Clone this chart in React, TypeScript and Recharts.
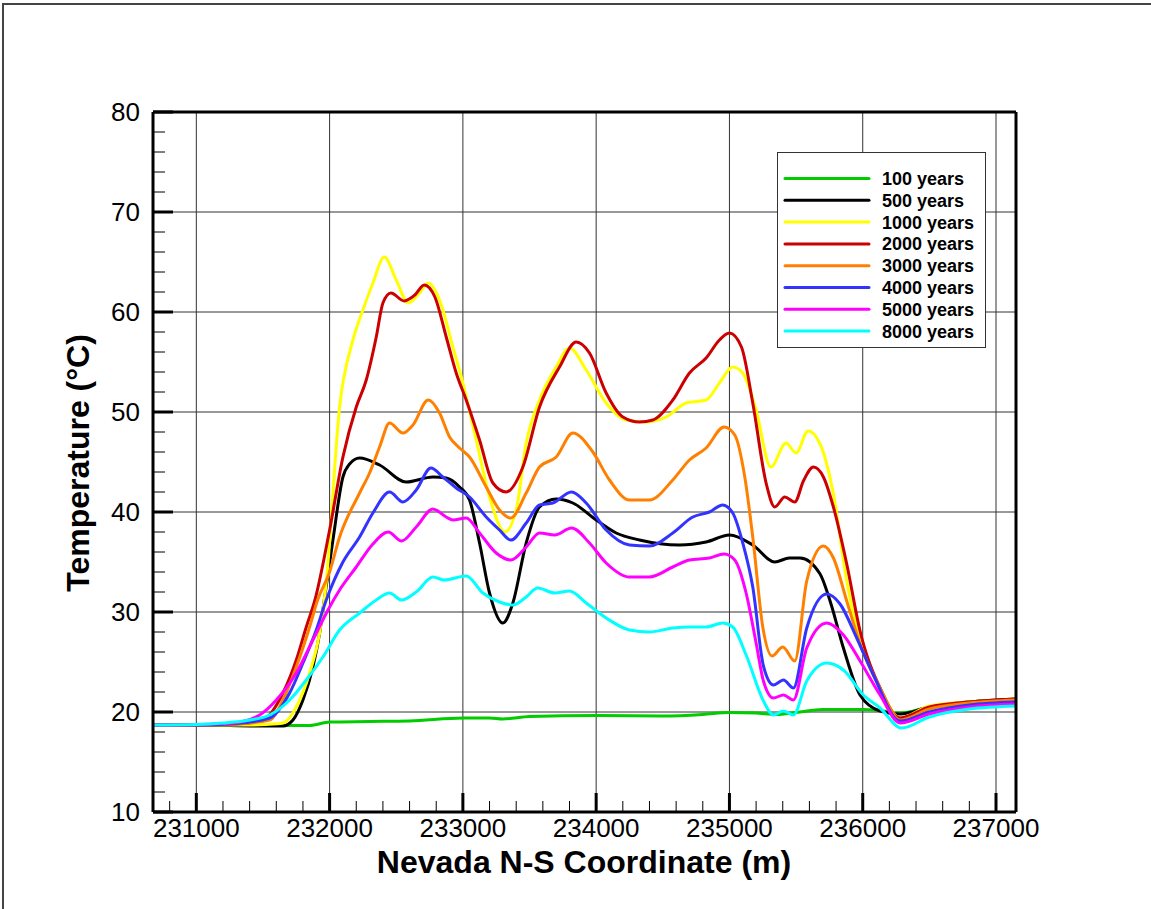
import React from 'react';
import { LineChart, Line, XAxis, YAxis, CartesianGrid } from 'recharts';

const FONT = '"Liberation Sans", Arial, Helvetica, sans-serif';

const seriesNames = ['100 years', '500 years', '1000 years', '2000 years', '3000 years', '4000 years', '5000 years', '8000 years'];
const seriesColors = ['#00cc00', '#000000', '#ffff00', '#cc0000', '#ff8000', '#3333ff', '#ff00ff', '#00ffff'];

const t100: [number, number][] = [
  [230675, 18.7], [231000, 18.7], [231500, 18.65], [231850, 18.65], [232000, 19.0], [232300, 19.05], [232600, 19.1],
  [233000, 19.4], [233200, 19.4], [233300, 19.3], [233500, 19.55], [234000, 19.65], [234500, 19.6], [234800, 19.75],
  [235000, 19.95], [235200, 19.9], [235350, 19.75], [235500, 19.95], [235700, 20.25], [236000, 20.25], [236150, 20.1],
  [236280, 19.9], [236500, 20.5], [236800, 21.0], [237150, 21.25],
];
const t500: [number, number][] = [
  [230675, 18.7], [231000, 18.7], [231500, 18.6], [231650, 18.6], [231725, 19.2], [231800, 21.2], [231875, 24.5],
  [231925, 27.9], [231960, 31.2], [232025, 37.2], [232100, 43.5], [232150, 44.8], [232225, 45.4], [232375, 44.7],
  [232575, 43.0], [232775, 43.5], [232875, 43.4], [232975, 42.5], [233050, 41.2], [233125, 36.9], [233200, 31.9],
  [233300, 28.9], [233375, 30.9], [233475, 36.9], [233575, 40.5], [233700, 41.3], [233825, 40.9], [234000, 39.2],
  [234150, 37.9], [234325, 37.2], [234625, 36.7], [234825, 37.0], [235000, 37.7], [235175, 36.7], [235340, 35.0],
  [235450, 35.4], [235530, 35.4], [235680, 33.8], [235755, 31.1], [235855, 26.4], [235980, 21.7], [236130, 20.1],
  [236280, 19.8], [236500, 20.5], [236800, 21.0], [237150, 21.3],
];
const t1000: [number, number][] = [
  [230675, 18.7], [231000, 18.7], [231400, 18.7], [231525, 18.75], [231650, 18.9], [231750, 20.5], [231850, 23.9],
  [231925, 27.9], [231975, 33.0], [232075, 50.5], [232175, 57.2], [232250, 60.2], [232325, 62.9], [232410, 65.5],
  [232500, 63.2], [232590, 60.9], [232675, 61.9], [232740, 62.9], [232825, 61.2], [232925, 56.5], [233000, 52.9],
  [233100, 47.2], [233200, 41.5], [233315, 38.0], [233400, 40.2], [233475, 46.9], [233575, 51.2], [233700, 54.5],
  [233800, 56.4], [233925, 54.2], [234075, 50.9], [234225, 49.2], [234375, 49.0], [234525, 49.5], [234675, 50.9],
  [234825, 51.2], [234925, 52.9], [235025, 54.5], [235100, 53.9], [235200, 50.2], [235310, 44.5], [235425, 46.9],
  [235500, 45.9], [235590, 48.1], [235680, 46.8], [235780, 41.8], [235880, 33.1], [235980, 27.1], [236130, 22.4],
  [236280, 19.4], [236500, 20.6], [236800, 21.0], [237150, 21.2],
];
const t2000: [number, number][] = [
  [230675, 18.7], [231000, 18.7], [231300, 18.8], [231500, 19.2], [231650, 21.9], [231750, 25.2], [231825, 28.5],
  [231890, 31.2], [232000, 38.2], [232100, 45.5], [232200, 50.5], [232275, 53.2], [232350, 57.5], [232400, 60.9],
  [232460, 61.9], [232560, 61.1], [232640, 61.7], [232710, 62.7], [232790, 61.5], [232875, 57.5], [232950, 53.9],
  [233025, 51.2], [233125, 47.2], [233225, 42.9], [233325, 42.0], [233450, 44.5], [233575, 50.5], [233725, 54.5],
  [233850, 57.0], [233950, 55.9], [234075, 51.9], [234200, 49.5], [234325, 49.0], [234425, 49.2], [234575, 51.2],
  [234700, 53.9], [234825, 55.4], [234925, 57.2], [235000, 57.9], [235090, 56.5], [235175, 50.9], [235275, 42.9],
  [235340, 40.5], [235415, 41.5], [235490, 41.0], [235555, 43.1], [235630, 44.5], [235705, 43.5], [235780, 40.5],
  [235880, 34.8], [235980, 28.1], [236130, 22.4], [236280, 19.4], [236500, 20.5], [236800, 21.0], [237150, 21.3],
];
const t3000: [number, number][] = [
  [230675, 18.7], [231000, 18.7], [231300, 18.8], [231550, 19.2], [231650, 21.2], [231750, 24.5], [231850, 28.5],
  [231910, 31.2], [232000, 34.0], [232075, 37.5], [232225, 41.9], [232300, 43.9], [232375, 46.5], [232450, 48.9],
  [232550, 47.9], [232625, 48.7], [232740, 51.2], [232825, 49.9], [232900, 47.5], [232975, 46.4], [233050, 45.5],
  [233175, 42.5], [233275, 40.2], [233360, 39.4], [233475, 41.9], [233575, 44.5], [233700, 45.5], [233825, 47.9],
  [233975, 46.0], [234100, 43.2], [234250, 41.2], [234400, 41.2], [234575, 43.2], [234700, 45.2], [234825, 46.4],
  [234960, 48.5], [235040, 47.7], [235115, 43.5], [235175, 37.5], [235250, 28.5], [235320, 25.6], [235400, 26.5],
  [235490, 25.1], [235580, 33.1], [235705, 36.6], [235780, 35.4], [235880, 31.1], [235980, 26.8], [236130, 22.4],
  [236280, 19.2], [236500, 20.3], [236800, 20.9], [237150, 21.2],
];
const t4000: [number, number][] = [
  [230675, 18.7], [231000, 18.7], [231300, 18.85], [231550, 19.4], [231700, 21.9], [231800, 24.9], [231900, 28.2],
  [231975, 31.2], [232100, 35.0], [232225, 37.5], [232325, 39.9], [232450, 42.0], [232550, 41.0], [232650, 42.2],
  [232760, 44.4], [232850, 43.5], [232950, 42.4], [233050, 41.5], [233175, 39.5], [233275, 38.2], [233360, 37.2],
  [233475, 38.9], [233575, 40.7], [233675, 40.9], [233815, 42.0], [233925, 40.9], [234075, 38.2], [234250, 36.7],
  [234400, 36.6], [234575, 37.9], [234725, 39.5], [234850, 40.0], [234950, 40.7], [235025, 39.9], [235100, 36.9],
  [235175, 32.5], [235255, 24.6], [235330, 22.7], [235405, 23.2], [235480, 22.4], [235580, 28.4], [235730, 31.8],
  [235830, 30.8], [235955, 27.4], [236080, 23.7], [236280, 19.1], [236500, 20.0], [236800, 20.7], [237150, 21.0],
];
const t5000: [number, number][] = [
  [230675, 18.7], [231000, 18.75], [231275, 18.9], [231475, 19.7], [231600, 21.2], [231750, 23.9], [231875, 27.2],
  [232000, 30.5], [232075, 32.2], [232200, 34.5], [232325, 36.8], [232440, 38.0], [232540, 37.1], [232650, 38.5],
  [232775, 40.3], [232875, 39.5], [232925, 39.2], [233025, 39.4], [233125, 37.9], [233250, 35.9], [233360, 35.2],
  [233475, 36.5], [233575, 37.9], [233690, 37.7], [233815, 38.4], [233950, 36.9], [234075, 34.9], [234250, 33.5],
  [234400, 33.5], [234575, 34.5], [234700, 35.2], [234850, 35.4], [234960, 35.8], [235040, 35.2], [235125, 31.9],
  [235200, 26.9], [235255, 23.1], [235330, 21.4], [235405, 21.7], [235480, 21.2], [235580, 26.4], [235730, 28.9],
  [235855, 27.7], [235980, 25.1], [236130, 21.7], [236280, 18.9], [236500, 19.8], [236800, 20.5], [237150, 20.8],
];
const t8000: [number, number][] = [
  [230675, 18.7], [231000, 18.75], [231200, 18.9], [231400, 19.2], [231550, 19.7], [231700, 21.2], [231825, 23.2],
  [231950, 25.5], [232075, 28.2], [232225, 29.9], [232350, 31.2], [232450, 31.9], [232540, 31.2], [232650, 32.0],
  [232775, 33.5], [232860, 33.2], [233025, 33.6], [233150, 31.9], [233275, 31.0], [233375, 30.7], [233475, 31.5],
  [233560, 32.4], [233690, 31.9], [233800, 32.1], [233925, 30.9], [234075, 29.4], [234250, 28.2], [234400, 28.0],
  [234575, 28.4], [234700, 28.5], [234825, 28.5], [234950, 28.9], [235025, 28.5], [235125, 25.7], [235255, 21.1],
  [235330, 19.7], [235405, 20.1], [235480, 19.7], [235580, 23.1], [235730, 24.9], [235855, 24.2], [236005, 21.7],
  [236130, 20.4], [236290, 18.4], [236500, 19.5], [236800, 20.3], [237150, 20.6],
];

const seriesValues = [t100, t500, t1000, t2000, t3000, t4000, t5000, t8000];

const xMajorTicks = [231000, 232000, 233000, 234000, 235000, 236000, 237000];
const xMinorTicks = [
  230800, 231200, 231400, 231600, 231800, 232200, 232400, 232600, 232800, 233200, 233400, 233600, 233800,
  234200, 234400, 234600, 234800, 235200, 235400, 235600, 235800, 236200, 236400, 236600, 236800,
];
const yMajorTicks = [10, 20, 30, 40, 50, 60, 70, 80];
const yMinorTicks = [12, 14, 16, 18, 22, 24, 26, 28, 32, 34, 36, 38, 42, 44, 46, 48, 52, 54, 56, 58, 62, 64, 66, 68, 72, 74, 76, 78];

const X_DOMAIN: [number, number] = [230675, 237150];
const Y_DOMAIN: [number, number] = [10, 80];

const xTitle = 'Nevada N-S Coordinate (m)';
const yTitle = 'Temperature (°C)';

const seriesData = seriesValues.map((arr) => arr.map(([x, y]) => ({ x, y })));
const xAllTicks = [...xMajorTicks, ...xMinorTicks].sort((a, b) => a - b);

const EmptyTick = () => <g />;

// Bottom-axis tick: inward tick mark (long/thick for majors), label only for majors.
const XTick = (props: any) => {
  const { x, y, payload } = props;
  const v = payload.value;
  const isMajor = xMajorTicks.includes(v);
  return (
    <g>
      <line x1={x} x2={x} y1={y} y2={y - (isMajor ? 19 : 11)} stroke="#000" strokeWidth={isMajor ? 3 : 1} />
      {isMajor && (
        <text x={x} y={y + 7} dy="0.71em" textAnchor="middle" fontSize={26} fontFamily={FONT} fill="#000">
          {v}
        </text>
      )}
    </g>
  );
};

function LegendBox() {
  return (
    <div style={{ position: 'absolute', left: 777, top: 152, width: 210, height: 197 }}>
      <svg width={210} height={197} style={{ display: 'block' }}>
        <rect x={0.5} y={0.5} width={208} height={195} fill="#fff" stroke="#333" strokeWidth={1} />
        {seriesNames.map((name, i) => {
          const cy = 26.5 + i * 21.8;
          return (
            <g key={name}>
              <line x1={8} x2={92} y1={cy} y2={cy} stroke={seriesColors[i]} strokeWidth={3} strokeLinecap="round" />
              <text x={105} y={cy + 6.5} fontFamily={FONT} fontWeight="bold" fontSize={18} fill="#000">
                {name}
              </text>
            </g>
          );
        })}
      </svg>
    </div>
  );
}

export default function App() {
  return (
    <div style={{ position: 'absolute', left: 0, top: 0, width: 1151, height: 909, background: '#fff', overflow: 'hidden' }}>
      <div
        style={{
          position: 'absolute', left: 2, top: 3, width: 1149, height: 906,
          borderTop: '2px solid #444', borderLeft: '2px solid #444', boxSizing: 'border-box',
        }}
      />
      <div style={{ position: 'absolute', left: 0, top: 0 }}>
        <LineChart width={1151} height={909} margin={{ top: 112, right: 135, bottom: 37, left: 93 }}>
          <CartesianGrid xAxisId="b" yAxisId="l" stroke="#333" strokeWidth={1}
            verticalValues={xMajorTicks} horizontalValues={yMajorTicks} />
          {seriesData.map((d, i) => (
            <Line
              key={seriesNames[i]}
              xAxisId="b"
              yAxisId="l"
              data={d}
              dataKey="y"
              name={seriesNames[i]}
              type="monotone"
              stroke={seriesColors[i]}
              strokeWidth={3}
              dot={false}
              activeDot={false}
              isAnimationActive={false}
            />
          ))}
          <XAxis
            xAxisId="b" type="number" dataKey="x" domain={X_DOMAIN} allowDataOverflow ticks={xAllTicks} interval={0}
            height={60} tickSize={0} tickMargin={0} tickLine={false}
            axisLine={{ stroke: '#000', strokeWidth: 3 }}
            tick={XTick}
          />
          <XAxis
            xAxisId="top" orientation="top" type="number" domain={X_DOMAIN} allowDataOverflow ticks={xMajorTicks}
            mirror height={1} tick={false} tickLine={false} axisLine={{ stroke: '#000', strokeWidth: 3 }}
          />
          <YAxis
            yAxisId="l" type="number" domain={Y_DOMAIN} allowDataOverflow ticks={yMajorTicks} interval={0}
            width={60} tickSize={0} tickMargin={13} tickLine={false}
            axisLine={{ stroke: '#000', strokeWidth: 3 }}
            tick={{ fontSize: 26, fill: '#000', fontFamily: FONT }}
          />
          <YAxis
            yAxisId="lminor" type="number" domain={Y_DOMAIN} allowDataOverflow ticks={yMinorTicks} interval={0}
            mirror width={1} tickSize={11} tick={EmptyTick} axisLine={false}
            tickLine={{ stroke: '#000', strokeWidth: 1 }}
          />
          <YAxis
            yAxisId="lmajor" type="number" domain={Y_DOMAIN} allowDataOverflow ticks={yMajorTicks} interval={0}
            mirror width={1} tickSize={20} tick={EmptyTick} axisLine={false}
            tickLine={{ stroke: '#000', strokeWidth: 3 }}
          />
          <YAxis
            yAxisId="r" orientation="right" type="number" domain={Y_DOMAIN} allowDataOverflow ticks={yMajorTicks}
            mirror width={1} tick={false} tickLine={false} axisLine={{ stroke: '#000', strokeWidth: 3 }}
          />
        </LineChart>
      </div>
      <svg width={1151} height={909} style={{ position: 'absolute', left: 0, top: 0, pointerEvents: 'none' }}>
        <text x={584} y={873} textAnchor="middle" fontFamily={FONT} fontWeight="bold" fontSize={32} fill="#000">
          {xTitle}
        </text>
        <text transform="translate(89,463) rotate(-90)" textAnchor="middle" fontFamily={FONT} fontWeight="bold" fontSize={32} fill="#000">
          {yTitle}
        </text>
      </svg>
      <LegendBox />
    </div>
  );
}
